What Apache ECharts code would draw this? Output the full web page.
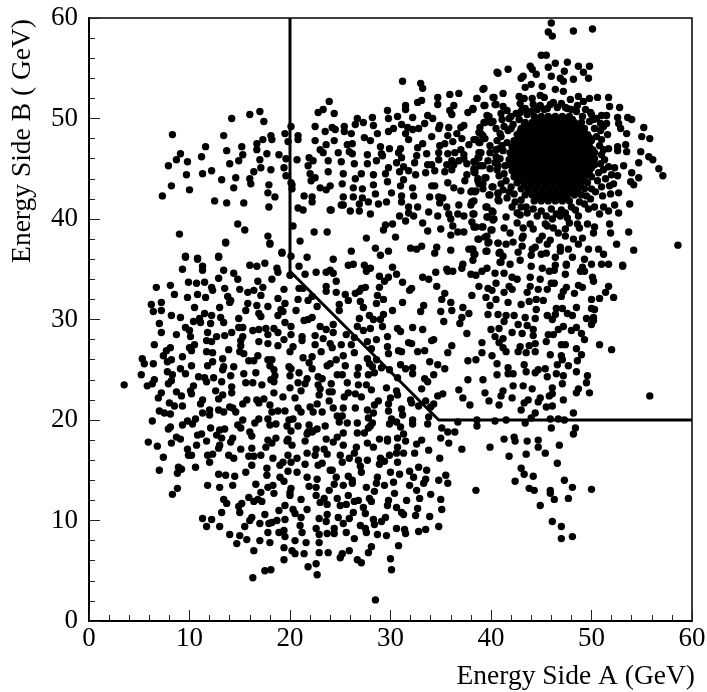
<!DOCTYPE html>
<html><head><meta charset="utf-8">
<style>html,body{margin:0;padding:0;background:#fff}#c{width:707px;height:692px}</style>
<script src="https://cdn.jsdelivr.net/npm/echarts@6/dist/echarts.min.js"></script>
</head><body><div id="c"></div><script>
const xTitle='Energy Side A (GeV)';
const yTitle='Energy Side B ( GeV)';
const cutLine=[[20,60],[20,34.8],[34.8,20],[60,20]];
const lobeUpper=[[13.6,37.7],[18.0,37.6],[19.2,36.7],[9.6,36.3],[10.8,36.1],[12.9,36.3],[9.3,35.0],[11.3,35.3],[11.3,34.9],[13.4,34.9],[16.0,35.4],[16.7,35.3],[17.5,35.6],[18.7,35.1],[18.8,34.7],[14.4,34.6],[12.9,34.1],[14.8,34.0],[18.2,34.0],[9.9,33.7],[10.7,33.6],[11.5,33.7],[16.8,33.8],[6.7,33.2],[8.1,33.4],[12.2,33.2],[12.3,32.9],[13.5,33.1],[15.0,33.0],[15.8,32.7],[16.4,32.9],[17.3,33.2],[19.4,33.0],[8.5,32.5],[10.8,32.5],[9.8,32.2],[11.6,32.2],[13.8,32.3],[17.1,32.4],[18.8,32.1],[14.1,31.9],[14.0,31.7],[7.2,31.7],[6.2,31.5],[15.8,31.6],[16.7,31.4],[17.8,31.3],[19.5,31.6],[10.5,31.2],[13.0,31.2],[19.1,31.0],[6.4,30.8],[7.2,30.9],[15.6,30.9],[19.3,30.8],[16.9,30.6],[17.1,30.3],[11.5,30.6],[8.2,30.4],[9.1,30.2],[12.2,30.4],[13.1,30.2],[18.8,30.4],[11.0,30.1],[10.4,29.8],[11.1,29.7],[14.9,30.1],[13.4,29.7],[12.1,29.6],[19.5,29.7],[7.0,29.6],[9.6,29.2],[10.0,28.9],[14.9,29.2],[15.3,29.2],[16.3,28.9],[16.9,29.0],[17.6,29.1],[18.4,29.1],[17.8,28.5],[18.8,28.7],[7.2,28.7],[8.7,28.5],[11.8,28.7],[14.2,28.7],[13.5,28.4],[12.7,28.3],[10.1,28.3],[15.3,28.3],[11.7,27.9],[12.2,27.8],[15.1,27.9],[19.4,28.0],[16.9,27.8],[17.8,27.6],[6.5,27.5],[10.5,27.5],[10.0,27.2],[10.2,26.9],[15.1,27.4],[18.8,27.4],[8.1,27.2],[7.7,26.9],[13.9,27.0],[11.7,26.8],[12.3,26.7],[15.0,26.8],[15.4,26.6],[7.4,26.4],[9.3,26.3],[16.8,26.4],[5.3,26.1],[8.2,26.0],[7.8,25.8],[13.3,26.1],[12.3,25.8],[15.9,25.9],[16.4,25.9],[17.8,26.0],[18.2,26.0],[5.5,25.6],[6.4,25.6],[10.2,25.4],[11.8,25.4],[13.4,25.3],[13.3,25.0],[14.4,25.3],[18.0,25.4],[9.1,25.1],[7.8,24.8],[9.6,24.6],[18.4,25.0],[15.4,24.6],[16.6,24.7],[5.2,24.5],[8.3,24.5],[10.9,24.3],[11.5,24.2],[11.7,23.8],[12.4,24.2],[14.1,24.4],[18.5,24.4],[18.1,24.0],[18.4,23.8],[6.5,24.0],[6.3,23.6],[5.8,23.4],[3.5,23.5],[8.2,23.9],[7.9,23.6],[13.2,23.8],[15.6,23.7],[16.3,23.7],[17.2,23.5],[10.4,23.4],[14.2,23.3],[10.1,22.9],[10.2,22.6],[12.6,22.9],[8.7,22.8],[14.2,22.7],[7.2,22.7],[9.2,22.4],[13.3,22.5],[12.9,22.1],[18.4,22.7],[19.3,22.3],[6.9,22.2],[15.7,22.0],[15.3,21.6],[16.7,22.0],[17.4,22.1],[16.9,21.7],[11.3,22.0],[11.1,21.6],[8.0,21.7],[8.5,21.4],[9.3,21.4],[14.0,21.3],[14.3,21.2],[18.0,21.5],[12.9,21.0],[13.4,20.8],[14.6,20.8],[12.0,21.0],[11.3,20.7],[12.0,20.5],[7.0,20.9],[7.5,20.7],[8.1,20.6],[18.8,20.9],[18.2,20.8],[19.5,20.9],[6.3,19.9],[9.8,19.9],[10.6,20.1],[10.3,19.6],[9.3,19.5],[15.3,20.0],[16.9,20.1],[17.8,20.1],[16.5,19.7],[18.0,19.5],[18.6,19.6],[8.1,19.3],[7.9,19.1],[12.1,19.2],[14.8,19.5],[15.1,19.2],[13.0,19.0],[13.5,19.1],[16.0,18.8],[16.2,18.4],[12.7,18.5],[13.2,18.2],[11.2,18.6],[10.8,18.5],[8.7,18.3],[9.1,18.1],[14.3,18.2],[18.6,18.2],[17.8,18.0]];
const lobeLower=[[5.9,17.8],[6.8,17.4],[8.2,17.7],[10.7,17.5],[11.7,17.9],[13.0,17.5],[12.9,17.2],[14.1,17.8],[15.1,17.1],[16.2,17.2],[18.2,17.7],[17.6,17.3],[9.8,17.1],[9.9,16.5],[10.2,16.5],[7.4,16.3],[11.8,16.5],[12.3,16.6],[12.0,15.8],[13.9,16.5],[14.4,16.2],[15.9,16.4],[16.4,16.4],[17.1,16.5],[18.3,16.2],[16.2,15.5],[19.3,15.8],[19.0,15.5],[10.6,15.3],[7.0,15.0],[8.9,15.3],[9.2,15.1],[8.8,14.7],[17.7,15.2],[12.9,14.6],[13.6,14.5],[14.5,14.4],[15.6,14.8],[17.7,14.5],[19.0,14.3],[19.4,13.9],[11.8,13.5],[13.0,13.3],[14.3,13.5],[16.6,13.6],[17.8,13.3],[18.3,13.5],[17.1,12.8],[18.4,12.7],[8.8,13.2],[8.3,12.6],[15.9,12.3],[13.4,12.1],[13.7,11.7],[16.4,11.9],[16.8,12.1],[17.2,11.9],[15.2,11.7],[14.9,11.4],[19.5,11.5],[18.9,11.0],[13.2,10.8],[15.0,10.8],[17.5,10.6],[16.2,10.3],[16.0,10.0],[11.3,10.2],[12.2,10.1],[17.0,9.7],[17.9,9.7],[18.2,9.8],[18.7,10.0],[19.5,10.1],[11.7,9.4],[13.0,9.4],[15.5,9.4],[17.8,8.8],[18.9,8.8],[19.4,9.0],[14.0,8.6],[15.0,8.5],[19.5,8.4],[15.7,8.1],[17.0,8.0],[14.7,7.7],[18.0,7.8],[19.4,7.3],[16.4,7.0],[19.4,6.1],[17.5,5.0],[18.1,5.1],[16.3,4.3]];
const lobeRight=[[20.1,18.9],[21.8,18.8],[22.3,18.9],[25.3,18.7],[26.7,18.7],[27.4,18.7],[31.3,18.6],[35.7,18.8],[36.4,18.8],[35.0,18.2],[19.8,18.1],[19.7,17.9],[21.5,17.9],[23.6,18.1],[24.7,18.3],[24.3,17.8],[28.9,18.1],[29.7,18.1],[29.7,17.9],[30.7,18.2],[31.5,17.9],[33.1,18.0],[32.6,17.6],[20.2,17.5],[25.3,17.5],[27.7,17.7],[28.3,17.3],[26.6,17.3],[30.7,17.3],[35.8,17.7],[37.1,17.1],[22.6,17.1],[23.4,17.1],[33.8,17.0],[21.7,16.7],[22.5,16.5],[23.7,16.6],[19.8,16.5],[25.0,16.5],[26.4,16.7],[25.9,16.2],[30.6,16.7],[31.3,16.7],[32.4,16.7],[29.9,16.5],[20.7,16.2],[34.9,16.2],[20.1,15.8],[21.5,15.6],[25.2,15.8],[26.8,16.0],[27.0,15.4],[27.7,16.0],[29.0,16.2],[29.4,15.9],[28.9,15.6],[30.7,15.8],[22.8,15.5],[23.2,15.7],[32.8,15.3],[33.6,15.0],[24.0,15.0],[24.2,15.0],[27.1,14.8],[19.8,14.9],[20.7,14.8],[30.0,14.8],[30.9,14.6],[31.9,14.9],[32.3,14.3],[35.5,14.5],[21.7,14.3],[22.7,14.1],[24.6,14.3],[25.8,14.4],[26.2,14.0],[26.2,13.7],[28.7,14.3],[28.6,13.7],[33.5,14.1],[33.3,13.7],[34.8,14.0],[30.3,13.8],[24.4,13.6],[25.3,13.5],[29.4,13.5],[31.9,13.5],[35.7,13.7],[21.9,13.4],[22.6,13.3],[38.5,13.0],[20.1,13.2],[20.0,12.8],[20.0,12.5],[23.9,13.0],[27.6,13.3],[28.4,12.9],[32.6,13.0],[30.4,12.7],[34.0,12.6],[22.6,12.5],[25.8,12.5],[21.1,12.1],[23.4,12.2],[24.7,12.2],[26.4,11.9],[26.8,12.0],[27.9,12.2],[28.1,11.9],[29.8,12.0],[29.7,11.5],[31.6,12.0],[32.9,12.2],[35.0,12.1],[23.0,11.8],[23.7,11.6],[25.0,11.5],[25.6,11.6],[27.3,11.3],[30.6,11.3],[32.7,11.2],[35.1,11.1],[20.3,11.1],[20.5,10.7],[21.7,11.1],[26.3,10.8],[27.5,10.7],[31.1,10.8],[31.3,10.6],[32.5,10.5],[33.9,10.4],[23.7,10.6],[21.1,10.3],[22.9,10.2],[24.8,10.3],[25.9,10.2],[23.6,9.9],[25.3,9.7],[28.3,10.1],[28.4,9.6],[29.5,10.3],[29.1,9.9],[21.0,9.5],[27.0,9.5],[34.8,9.4],[22.6,9.2],[27.5,9.2],[27.6,8.8],[24.4,9.2],[24.4,8.7],[23.7,8.7],[30.6,9.2],[31.4,9.1],[31.5,8.7],[33.5,9.1],[32.8,8.9],[21.2,8.8],[25.6,8.8],[22.9,8.6],[28.7,8.6],[29.6,8.5],[20.5,8.0],[21.6,7.8],[26.4,8.2],[22.9,7.8],[30.8,7.5],[28.1,7.4],[20.2,7.0],[20.5,6.7],[21.4,6.7],[22.9,6.8],[23.8,6.8],[25.9,7.0],[25.2,6.7],[25.0,6.3],[27.8,6.8],[30.0,6.2],[26.7,6.1],[27.1,5.8],[22.6,5.7],[21.8,5.4],[30.1,5.1],[22.7,4.6],[28.5,2.1]];
const diagonalBand=[[20.0,34.4],[21.5,34.5],[22.6,34.7],[23.6,34.7],[24.3,34.6],[24.6,33.8],[27.6,34.8],[28.9,34.3],[29.8,34.2],[30.6,34.5],[29.4,33.8],[33.2,34.2],[33.8,34.0],[34.5,34.7],[35.7,34.8],[36.2,34.8],[38.0,34.5],[38.5,34.4],[31.2,33.7],[34.6,33.3],[38.8,33.3],[20.9,33.1],[21.3,33.1],[23.6,33.3],[23.6,32.8],[28.9,33.2],[27.5,33.2],[27.1,33.1],[26.5,32.6],[26.9,32.8],[24.6,32.7],[25.5,32.5],[32.1,33.1],[31.9,32.9],[28.7,32.4],[35.4,32.6],[35.1,32.0],[38.1,32.4],[22.2,32.3],[21.8,31.9],[20.8,32.0],[25.8,31.9],[27.0,31.8],[29.3,32.0],[28.6,31.6],[31.2,31.7],[36.0,31.7],[24.9,31.5],[24.9,30.9],[22.7,31.3],[27.3,31.2],[33.3,31.4],[33.0,30.8],[20.6,30.9],[30.2,30.9],[35.0,30.8],[36.1,30.9],[37.2,31.2],[37.1,30.2],[36.9,29.6],[37.8,30.6],[29.3,30.5],[29.0,30.0],[27.9,30.4],[28.3,30.0],[26.9,30.1],[22.2,30.2],[21.8,30.0],[21.4,29.9],[35.3,29.8],[24.3,29.5],[23.0,29.3],[23.6,29.0],[26.7,29.3],[27.3,28.9],[28.0,29.1],[29.2,29.3],[20.1,29.3],[30.7,29.1],[31.0,28.8],[32.2,29.2],[33.2,29.0],[24.3,28.7],[25.6,28.5],[22.5,28.4],[20.1,28.5],[37.6,28.6],[29.7,28.3],[26.4,28.2],[21.2,28.3],[21.2,27.9],[23.3,28.1],[28.6,28.0],[34.3,28.0],[34.1,27.9],[27.7,27.8],[22.5,27.5],[24.0,27.6],[24.2,27.2],[25.1,27.5],[26.1,27.5],[31.8,27.7],[32.1,27.6],[29.7,27.3],[36.1,27.4],[28.1,27.1],[20.3,27.3],[20.0,26.8],[30.8,26.9],[31.1,26.8],[32.7,26.8],[33.4,26.9],[23.1,26.8],[25.3,26.4],[26.4,26.7],[29.8,26.6],[35.7,26.7],[22.2,26.3],[21.3,26.2],[27.7,26.1],[28.6,26.0],[24.6,26.0],[37.7,25.9],[38.5,26.0],[33.9,25.8],[21.9,25.7],[24.0,25.6],[23.7,25.4],[27.9,25.6],[28.2,25.3],[31.0,25.5],[31.5,25.1],[34.7,25.5],[25.5,25.4],[19.9,25.3],[20.1,25.1],[26.8,25.2],[29.1,25.2],[28.4,24.7],[35.4,25.1],[32.2,25.2],[32.2,24.6],[22.2,25.1],[29.9,25.0],[20.9,24.7],[20.0,24.4],[27.8,24.5],[26.7,24.5],[24.7,24.5],[25.2,24.5],[22.8,24.3],[23.2,24.1],[30.7,24.2],[34.3,24.5],[33.4,24.1],[33.7,23.8],[21.7,24.1],[21.5,23.6],[20.8,23.7],[25.7,23.7],[37.7,24.0],[24.1,23.6],[22.8,23.5],[23.0,23.1],[20.0,23.2],[26.8,23.5],[27.6,23.5],[28.1,23.0],[29.6,23.2],[33.1,23.1],[36.8,23.0],[21.1,22.9],[23.9,22.8],[24.2,22.8],[30.6,22.9],[30.7,22.5],[25.8,22.7],[22.9,22.5],[26.5,22.6],[27.1,22.3],[35.2,22.6],[34.7,22.4],[25.4,22.3],[20.5,22.2],[30.0,22.2],[29.8,21.6],[37.2,22.2],[28.8,21.9],[28.4,21.5],[32.0,22.0],[32.1,21.7],[23.9,21.9],[33.5,21.9],[22.7,21.6],[22.0,21.3],[34.3,21.6],[34.0,21.3],[32.8,21.4],[37.9,21.5],[24.3,21.2],[25.3,21.2],[26.5,21.2],[20.8,21.2],[21.1,20.8],[31.1,21.1],[29.8,20.9],[27.7,21.0],[22.3,20.8],[23.2,20.8],[28.3,20.7],[31.2,20.5],[24.7,20.4],[25.2,20.4],[24.9,19.8],[27.8,20.2],[20.3,20.1],[19.9,20.0],[33.8,20.3],[30.1,20.1],[30.6,19.8],[29.9,19.6],[32.2,20.0],[32.2,19.6],[25.7,19.7],[26.7,19.7],[28.2,19.7],[28.0,19.4],[27.8,19.2],[36.7,19.8],[38.6,20.0],[33.7,19.6],[19.7,19.4],[20.8,19.4],[21.9,19.5],[22.7,19.1],[22.2,18.8],[21.7,18.6],[23.5,19.4],[31.0,19.3],[35.1,19.2],[38.6,19.4]];
const upperLeft=[[23.9,51.7],[22.8,50.6],[23.3,50.9],[17.0,50.7],[16.0,50.4],[14.2,50.0],[17.4,49.7],[20.1,49.2],[22.5,49.2],[23.5,48.7],[8.3,48.4],[13.4,48.3],[18.1,48.3],[18.2,47.9],[19.5,48.5],[17.3,47.9],[20.8,48.3],[20.8,47.9],[19.8,47.7],[22.5,47.8],[23.6,47.4],[16.7,47.5],[11.6,47.2],[15.2,47.2],[16.7,46.9],[13.7,46.8],[15.3,46.4],[9.1,46.5],[17.7,46.5],[18.9,46.4],[23.0,46.9],[23.3,46.6],[11.2,46.2],[8.7,45.9],[9.8,45.7],[14.9,45.8],[14.0,45.5],[17.0,45.9],[19.6,46.0],[20.7,45.9],[21.9,46.1],[22.3,45.8],[23.8,45.8],[7.9,45.3],[21.8,45.3],[17.1,45.1],[16.4,44.7],[19.4,45.1],[18.1,44.9],[12.2,44.8],[11.3,44.5],[23.8,44.7],[22.0,44.5],[9.7,44.4],[19.6,44.3],[13.2,43.9],[14.6,44.1],[16.0,44.0],[16.1,43.5],[22.5,44.1],[22.1,43.8],[20.1,43.6],[20.2,43.4],[8.2,43.3],[17.9,43.4],[14.4,43.1],[10.0,42.9],[20.2,43.0],[23.0,43.1],[23.6,42.9],[24.0,43.3],[17.8,42.6],[7.3,42.3],[18.5,42.2],[21.4,42.3],[22.2,42.2],[12.5,41.8],[13.7,41.6],[15.4,41.6],[22.2,41.7],[17.9,41.2],[20.8,41.1],[21.3,40.9],[24.0,40.9],[14.8,39.5],[15.5,38.9],[20.3,39.3],[9.0,38.5],[22.4,38.7],[23.7,38.7],[17.8,38.3],[21.0,37.8],[13.6,37.6],[18.0,37.5],[19.2,36.6],[20.1,36.3],[21.7,36.2],[9.6,36.2],[12.9,36.2],[10.8,36.0],[20.9,35.3]];
const upperMiddle=[[31.2,53.7],[33.0,53.5],[33.2,53.0],[40.7,54.5],[39.3,53.0],[36.8,52.5],[35.9,52.4],[34.7,52.1],[38.6,52.0],[40.3,52.1],[33.1,51.8],[32.7,51.6],[34.7,51.4],[36.3,51.3],[35.9,50.8],[36.1,50.4],[39.4,51.3],[40.5,51.4],[31.5,51.3],[31.5,50.9],[29.7,50.8],[24.4,50.5],[38.2,51.0],[37.7,50.6],[30.7,50.2],[29.8,50.0],[32.2,50.1],[33.7,50.3],[34.2,50.0],[26.7,50.0],[27.3,49.6],[28.2,50.1],[28.3,49.3],[39.8,50.2],[39.4,49.6],[40.2,49.7],[31.1,49.4],[33.4,49.5],[34.9,49.3],[35.8,49.1],[37.3,49.3],[37.0,49.1],[38.9,49.1],[26.5,49.4],[25.4,49.2],[25.4,48.7],[24.2,49.1],[24.5,48.9],[26.1,48.5],[28.7,48.5],[29.8,48.7],[30.3,49.0],[31.7,49.1],[31.5,48.5],[32.2,48.9],[32.8,49.0],[34.8,49.0],[34.1,48.2],[36.6,48.5],[35.7,48.3],[27.4,48.1],[28.0,47.8],[31.8,47.9],[24.4,47.8],[37.1,48.0],[39.0,48.5],[39.2,48.1],[38.5,47.9],[38.9,47.6],[33.2,47.5],[26.2,47.5],[25.7,47.4],[29.0,47.2],[35.4,47.5],[36.2,47.7],[34.9,47.3],[37.8,47.4],[31.0,47.0],[30.8,46.6],[29.9,47.0],[32.7,47.1],[25.9,46.7],[26.2,46.5],[24.8,46.6],[29.1,46.5],[33.6,46.5],[34.8,46.6],[35.7,46.5],[36.4,46.6],[37.0,46.9],[37.3,46.4],[39.0,46.6],[38.8,46.1],[27.7,46.4],[31.1,46.1],[30.6,45.6],[31.3,45.2],[32.6,46.3],[32.4,45.6],[25.1,45.7],[26.4,45.5],[28.6,45.8],[27.7,45.5],[29.2,46.3],[36.1,45.8],[36.8,45.8],[34.8,45.9],[37.3,46.0],[37.6,45.5],[38.4,45.7],[39.2,45.3],[33.7,45.4],[34.1,45.4],[35.6,45.4],[36.3,45.4],[35.4,44.7],[36.1,44.9],[29.8,45.1],[29.5,44.5],[31.8,44.8],[30.9,44.7],[34.4,44.8],[38.4,44.9],[38.4,44.6],[25.3,44.5],[27.1,44.5],[28.3,44.4],[32.5,44.4],[33.5,44.6],[37.6,44.4],[37.4,43.8],[26.5,44.0],[31.3,43.9],[29.7,43.7],[25.2,43.5],[28.3,43.4],[26.3,43.1],[27.2,43.0],[31.0,43.3],[32.2,43.1],[34.1,43.3],[34.4,43.3],[35.7,43.6],[36.3,43.1],[37.0,42.8],[38.7,44.0],[39.2,43.0],[39.5,44.1],[38.8,43.5],[40.2,43.2],[38.1,42.8],[38.5,42.8],[30.1,42.6],[28.5,42.5],[25.3,42.2],[26.3,42.2],[27.2,42.1],[26.9,41.5],[31.1,42.3],[31.1,41.7],[32.3,42.3],[33.9,42.2],[34.8,42.2],[35.2,42.1],[34.9,41.6],[39.9,42.4],[40.7,42.6],[40.8,41.8],[38.3,41.8],[38.0,41.4],[25.1,41.4],[25.3,41.4],[27.8,41.7],[28.8,41.5],[29.6,41.7],[26.0,40.8],[26.9,40.8],[28.0,40.5],[24.1,40.9],[31.8,41.2],[32.7,41.2],[31.8,40.6],[32.3,40.3],[30.9,40.3],[31.5,39.8],[33.8,40.7],[34.7,40.3],[35.6,41.2],[36.8,41.4],[39.6,41.2],[40.2,40.7],[39.7,40.2],[40.3,40.0],[36.7,40.5],[37.3,40.3],[38.3,40.5],[35.8,40.5],[36.0,40.0],[36.2,39.3],[38.1,39.7],[38.5,39.2],[39.2,39.2],[33.2,39.6],[30.2,39.5],[29.5,39.4],[29.3,38.9],[33.7,38.8],[35.0,39.0],[36.7,38.7],[37.3,38.7],[36.0,38.4],[40.1,38.9],[30.5,38.2],[27.6,38.1],[38.8,38.0],[39.6,38.3],[39.8,37.7],[40.7,37.6],[34.6,37.2],[34.4,36.6],[32.0,37.1],[32.6,37.0],[33.1,37.3],[28.5,37.1],[29.0,36.4],[29.8,36.8],[26.1,36.8],[36.0,36.9],[37.8,37.0],[38.2,37.0],[38.4,36.5],[39.6,36.8],[40.8,36.6],[24.3,36.0],[38.2,35.9],[41.0,35.7],[26.3,35.5],[25.8,35.4],[27.4,35.4],[28.0,35.1],[30.2,35.2],[37.2,35.5],[37.1,35.1],[35.6,35.0],[24.0,34.9]];
const peakHalo=[[46.0,59.5],[45.7,58.6],[46.1,58.2],[48.2,58.7],[50.1,58.9],[45.0,56.3],[45.5,56.3],[41.7,54.9],[40.6,54.6],[43.9,55.2],[44.1,54.9],[45.7,55.1],[46.4,55.5],[47.6,55.6],[48.7,55.2],[49.8,55.2],[49.2,54.6],[49.7,54.0],[47.3,54.7],[44.5,54.4],[46.0,54.2],[43.2,54.2],[43.0,54.0],[46.9,54.0],[47.2,53.7],[48.2,53.9],[44.0,53.4],[43.4,53.1],[45.1,53.2],[39.2,52.9],[46.4,52.9],[47.2,52.7],[41.2,52.5],[42.8,52.2],[43.3,52.0],[44.1,52.0],[44.9,52.3],[45.3,52.1],[40.2,52.1],[38.6,52.0],[47.9,51.9],[48.7,52.2],[49.8,52.0],[50.6,52.1],[51.7,52.1],[49.2,51.7],[40.4,51.4],[39.3,51.3],[41.2,51.2],[41.6,50.8],[42.9,51.5],[44.2,51.4],[46.2,51.6],[51.8,51.2],[52.8,51.1],[48.6,51.3],[47.4,51.1],[38.2,50.9],[42.9,50.6],[43.4,51.0],[45.3,50.9],[41.0,50.5],[41.1,49.9],[39.6,50.3],[39.3,49.6],[40.0,49.6],[50.0,50.4],[51.0,50.3],[51.5,50.3],[52.6,50.1],[53.6,50.1],[54.0,49.9],[50.9,49.5],[51.5,49.5],[52.7,49.5],[52.9,49.0],[55.2,49.1],[53.5,48.5],[40.5,49.0],[38.8,48.6],[39.2,48.3],[39.4,48.0],[40.9,48.5],[51.6,48.4],[55.0,48.2],[55.8,48.0],[38.3,47.9],[38.8,47.6],[40.6,47.8],[39.9,47.3],[52.6,47.2],[53.4,47.4],[52.6,46.8],[53.5,46.7],[51.7,47.0],[54.9,46.7],[55.7,46.2],[56.1,45.9],[38.8,46.6],[38.7,46.1],[38.3,45.7],[39.9,46.6],[39.7,45.8],[40.4,45.6],[54.7,45.6],[53.2,45.3],[38.9,45.3],[38.3,45.0],[38.3,44.7],[39.9,45.0],[40.7,45.3],[51.7,45.2],[52.3,45.1],[56.7,45.0],[57.1,44.3],[54.0,44.6],[54.7,44.1],[52.0,44.4],[52.6,44.3],[51.4,44.0],[38.7,43.8],[39.4,44.1],[39.2,43.5],[52.2,43.5],[51.8,43.3],[53.9,43.7],[54.2,43.4],[40.1,43.2],[41.2,42.9],[38.4,42.7],[38.0,42.7],[52.7,42.6],[51.9,42.5],[51.1,42.3],[39.8,42.4],[40.7,42.5],[40.7,41.9],[41.6,42.1],[38.1,41.7],[53.8,41.5],[42.1,41.2],[39.5,41.2],[40.1,40.8],[49.7,41.0],[50.3,41.2],[51.2,41.2],[52.3,41.4],[51.7,40.8],[52.7,40.6],[50.8,40.5],[38.2,40.5],[39.6,40.2],[40.2,39.9],[41.5,40.2],[42.6,40.6],[42.9,40.4],[48.7,40.3],[42.6,39.6],[51.8,39.5],[50.3,39.2],[50.2,38.6],[51.9,38.6],[38.3,39.2],[39.1,39.2],[40.0,38.9],[41.3,39.1],[43.2,39.1],[43.9,39.5],[44.2,39.0],[45.4,39.5],[46.1,40.0],[46.9,40.3],[47.6,40.1],[47.8,39.6],[47.4,39.0],[46.7,38.6],[46.2,39.1],[45.6,39.3],[48.6,39.5],[48.8,39.1],[49.6,39.5],[53.7,38.7],[41.9,38.6],[43.2,38.3],[43.1,38.1],[45.1,38.3],[44.8,37.9],[47.4,38.3],[48.2,38.0],[49.1,38.1],[38.7,38.0],[39.4,38.2],[39.7,37.6],[40.7,37.6],[41.5,37.5],[42.2,37.7],[43.1,37.3],[45.9,37.9],[45.6,37.5],[48.7,37.5],[52.5,37.5],[46.9,37.2],[47.7,37.0],[46.9,36.8],[44.4,37.2],[44.1,37.0],[49.7,37.0],[50.7,37.0],[51.2,36.5],[54.2,36.9],[39.5,36.8],[38.1,37.0],[38.3,36.5],[40.9,36.7],[41.2,36.3],[42.7,36.7],[44.0,36.4],[45.0,36.5],[45.5,36.6],[46.4,36.2],[48.1,36.2],[42.9,35.9],[49.3,36.0],[40.9,35.7],[41.9,35.5],[46.4,35.4],[47.5,35.5],[50.0,35.5],[51.0,35.5],[51.7,35.5],[53.1,35.4]];
const peakFringe=[[41.0,48.2],[41.6,47.6],[41.2,46.8],[40.9,46.0],[41.4,45.3],[41.3,44.5],[41.5,43.8],[42.0,43.2],[42.3,42.5],[43.0,41.9],[43.5,41.2],[44.2,41.0],[45.0,40.8],[46.0,41.0],[47.0,40.9],[48.0,41.2],[48.8,41.7],[49.5,42.3],[50.0,43.0],[50.6,43.8],[50.7,44.6],[50.9,45.5],[51.0,46.4],[50.8,47.3],[50.5,48.2],[50.3,49.0],[49.8,49.7],[49.1,50.2],[48.5,50.7],[47.6,51.0],[46.6,51.1],[45.6,51.0],[44.6,50.9],[43.6,50.4],[42.8,49.9],[42.2,49.4],[41.7,48.8],[42.0,50.2],[41.8,45.9],[40.5,46.9],[43.1,50.9],[44.0,50.7],[44.9,51.3],[45.9,51.4],[47.0,51.5],[48.0,50.9],[49.4,50.9],[50.2,49.9],[50.9,48.8],[51.0,47.9],[51.2,46.9],[51.3,45.9],[51.2,44.9],[51.0,43.2],[50.4,42.7],[49.9,42.0],[49.3,41.5],[48.4,40.9],[47.4,40.6],[46.5,40.5],[45.5,40.3],[44.6,40.3],[43.6,40.6],[43.0,41.2],[42.4,41.7],[41.8,42.7],[41.0,43.5],[40.8,44.3],[40.6,44.9],[41.1,47.3],[40.8,47.0],[40.5,46.2],[41.3,49.2],[42.0,49.0],[41.8,50.0],[42.5,50.5],[49.9,50.6],[50.5,50.0],[51.2,49.2]];
const peakCore=[[44.3,50.2],[45.0,50.2],[45.7,50.2],[46.4,50.2],[47.1,50.2],[47.8,50.2],[43.4,49.6],[44.1,49.6],[44.8,49.6],[45.5,49.6],[46.2,49.6],[46.9,49.6],[47.6,49.6],[48.3,49.6],[49.0,49.6],[43.0,49.0],[43.7,49.0],[44.4,49.0],[45.1,49.0],[45.8,49.0],[46.5,49.0],[47.2,49.0],[47.9,49.0],[48.6,49.0],[49.3,49.0],[42.6,48.4],[43.3,48.4],[44.0,48.4],[44.7,48.4],[45.4,48.4],[46.1,48.4],[46.8,48.4],[47.5,48.4],[48.2,48.4],[48.9,48.4],[49.6,48.4],[42.3,47.8],[43.0,47.8],[43.7,47.8],[44.4,47.8],[45.1,47.8],[45.8,47.8],[46.5,47.8],[47.2,47.8],[47.9,47.8],[48.6,47.8],[49.3,47.8],[50.0,47.8],[42.1,47.2],[42.8,47.2],[43.5,47.2],[44.2,47.2],[44.9,47.2],[45.6,47.2],[46.3,47.2],[47.0,47.2],[47.7,47.2],[48.4,47.2],[49.1,47.2],[49.8,47.2],[41.9,46.6],[42.6,46.6],[43.3,46.6],[44.0,46.6],[44.7,46.6],[45.4,46.6],[46.1,46.6],[46.8,46.6],[47.5,46.6],[48.2,46.6],[48.9,46.6],[49.6,46.6],[50.3,46.6],[42.1,46.0],[42.8,46.0],[43.5,46.0],[44.2,46.0],[44.9,46.0],[45.6,46.0],[46.3,46.0],[47.0,46.0],[47.7,46.0],[48.4,46.0],[49.1,46.0],[49.8,46.0],[50.3,46.0],[41.9,45.4],[42.6,45.4],[43.3,45.4],[44.0,45.4],[44.7,45.4],[45.4,45.4],[46.1,45.4],[46.8,45.4],[47.5,45.4],[48.2,45.4],[48.9,45.4],[49.6,45.4],[50.3,45.4],[42.1,44.8],[42.8,44.8],[43.5,44.8],[44.2,44.8],[44.9,44.8],[45.6,44.8],[46.3,44.8],[47.0,44.8],[47.7,44.8],[48.4,44.8],[49.1,44.8],[49.8,44.8],[42.3,44.2],[43.0,44.2],[43.7,44.2],[44.4,44.2],[45.1,44.2],[45.8,44.2],[46.5,44.2],[47.2,44.2],[47.9,44.2],[48.6,44.2],[49.3,44.2],[50.0,44.2],[42.6,43.6],[43.3,43.6],[44.0,43.6],[44.7,43.6],[45.4,43.6],[46.1,43.6],[46.8,43.6],[47.5,43.6],[48.2,43.6],[48.9,43.6],[49.6,43.6],[43.0,43.0],[43.7,43.0],[44.4,43.0],[45.1,43.0],[45.8,43.0],[46.5,43.0],[47.2,43.0],[47.9,43.0],[48.6,43.0],[49.3,43.0],[43.4,42.4],[44.1,42.4],[44.8,42.4],[45.5,42.4],[46.2,42.4],[46.9,42.4],[47.6,42.4],[48.3,42.4],[49.0,42.4],[44.3,41.8],[45.0,41.8],[45.7,41.8],[46.4,41.8],[47.1,41.8],[47.8,41.8]];
const peakCoreFill=[[44.6,49.9],[45.3,49.9],[46.0,49.9],[46.7,49.9],[47.4,49.9],[48.1,49.9],[43.3,49.3],[44.0,49.3],[44.7,49.3],[45.4,49.3],[46.1,49.3],[46.8,49.3],[47.5,49.3],[48.2,49.3],[48.9,49.3],[42.9,48.7],[43.6,48.7],[44.3,48.7],[45.0,48.7],[45.7,48.7],[46.4,48.7],[47.1,48.7],[47.8,48.7],[48.5,48.7],[49.2,48.7],[42.9,48.1],[43.6,48.1],[44.3,48.1],[45.0,48.1],[45.7,48.1],[46.4,48.1],[47.1,48.1],[47.8,48.1],[48.5,48.1],[49.2,48.1],[49.8,48.1],[42.6,47.5],[43.3,47.5],[44.0,47.5],[44.7,47.5],[45.4,47.5],[46.1,47.5],[46.8,47.5],[47.5,47.5],[48.2,47.5],[48.9,47.5],[49.6,47.5],[42.4,46.9],[43.1,46.9],[43.8,46.9],[44.5,46.9],[45.2,46.9],[45.9,46.9],[46.6,46.9],[47.3,46.9],[48.0,46.9],[48.7,46.9],[49.4,46.9],[50.1,46.9],[42.2,46.3],[42.9,46.3],[43.6,46.3],[44.3,46.3],[45.0,46.3],[45.7,46.3],[46.4,46.3],[47.1,46.3],[47.8,46.3],[48.5,46.3],[49.2,46.3],[49.9,46.3],[42.2,45.7],[42.9,45.7],[43.6,45.7],[44.3,45.7],[45.0,45.7],[45.7,45.7],[46.4,45.7],[47.1,45.7],[47.8,45.7],[48.5,45.7],[49.2,45.7],[49.9,45.7],[42.4,45.1],[43.1,45.1],[43.8,45.1],[44.5,45.1],[45.2,45.1],[45.9,45.1],[46.6,45.1],[47.3,45.1],[48.0,45.1],[48.7,45.1],[49.4,45.1],[50.0,45.1],[42.6,44.5],[43.3,44.5],[44.0,44.5],[44.7,44.5],[45.4,44.5],[46.1,44.5],[46.8,44.5],[47.5,44.5],[48.2,44.5],[48.9,44.5],[49.6,44.5],[42.9,43.9],[43.6,43.9],[44.3,43.9],[45.0,43.9],[45.7,43.9],[46.4,43.9],[47.1,43.9],[47.8,43.9],[48.5,43.9],[49.2,43.9],[43.3,43.3],[44.0,43.3],[44.7,43.3],[45.4,43.3],[46.1,43.3],[46.8,43.3],[47.5,43.3],[48.2,43.3],[48.9,43.3],[43.7,42.7],[44.4,42.7],[45.1,42.7],[45.8,42.7],[46.5,42.7],[47.2,42.7],[47.9,42.7],[48.6,42.7],[44.6,42.1],[45.3,42.1],[46.0,42.1],[46.7,42.1],[47.4,42.1]];
const lowerRight=[[53.1,35.3],[47.5,35.4],[44.0,35.3],[45.1,35.1],[39.6,35.1],[39.1,34.8],[40.4,34.6],[41.3,34.6],[45.8,34.8],[46.3,34.9],[49.1,35.2],[48.9,34.8],[49.3,34.8],[47.4,34.5],[42.1,34.2],[42.6,34.0],[43.9,34.2],[44.9,34.0],[50.1,34.2],[50.2,33.8],[40.5,33.6],[46.0,33.6],[46.3,33.6],[41.8,33.3],[42.1,33.0],[43.9,33.3],[48.7,33.4],[49.1,33.2],[51.7,33.3],[51.4,32.7],[39.7,33.1],[40.1,32.9],[47.5,33.2],[47.2,32.8],[47.0,32.3],[44.7,33.0],[45.6,33.0],[41.3,32.7],[43.6,32.7],[48.3,32.6],[52.2,32.2],[39.5,32.2],[40.5,32.0],[44.5,32.0],[45.2,31.9],[43.8,31.8],[41.7,31.7],[50.0,32.0],[50.8,32.1],[43.0,31.5],[39.9,31.4],[48.5,31.2],[46.5,31.1],[47.1,31.1],[44.5,31.0],[50.0,31.1],[50.3,31.0],[39.7,30.5],[40.7,30.5],[41.5,30.4],[41.3,29.8],[42.3,30.4],[43.4,30.2],[44.4,30.1],[45.6,30.4],[46.1,30.0],[46.4,30.5],[47.6,30.6],[48.1,30.4],[49.5,30.1],[50.2,30.2],[50.2,29.9],[50.0,29.5],[42.7,29.5],[43.6,29.4],[40.8,29.1],[40.0,29.0],[44.2,29.0],[44.2,28.4],[47.2,29.3],[46.7,29.0],[48.5,29.2],[48.0,28.9],[42.1,28.7],[43.1,28.6],[45.7,28.5],[46.2,28.5],[49.0,28.6],[49.3,28.0],[40.4,28.3],[40.8,27.7],[41.2,28.1],[45.5,27.8],[39.1,27.7],[44.4,27.6],[43.8,27.4],[42.9,27.3],[42.7,26.8],[47.0,27.5],[47.4,27.5],[50.8,27.5],[41.2,27.2],[41.5,26.8],[48.5,27.1],[52.0,27.0],[43.5,26.7],[44.4,26.8],[39.1,26.7],[40.1,26.4],[45.9,26.5],[49.0,26.5],[48.6,25.9],[47.0,26.4],[47.1,26.0],[40.6,25.6],[43.3,25.5],[46.6,25.5],[47.7,25.4],[41.7,25.2],[41.7,24.6],[42.2,24.6],[45.4,25.1],[44.7,25.0],[44.4,24.7],[43.5,24.8],[48.5,24.8],[40.6,24.5],[46.5,24.6],[47.2,24.4],[45.6,24.3],[49.6,24.4],[49.5,23.7],[39.2,24.0],[47.1,23.6],[42.2,23.4],[43.2,23.4],[44.1,23.1],[46.1,23.2],[46.1,22.6],[45.8,22.4],[48.7,23.1],[48.5,22.7],[49.8,22.7],[55.8,22.4],[41.2,22.9],[41.0,22.4],[39.4,22.7],[42.1,22.2],[44.9,22.2],[44.7,21.8],[47.2,22.0],[43.7,22.0],[43.3,21.7],[39.8,21.9],[40.8,21.5],[45.5,21.3],[46.1,21.4],[43.0,21.0],[44.4,20.7],[48.2,20.7],[44.0,20.2],[45.9,20.1],[46.7,20.1],[47.3,20.0],[40.4,19.9],[41.5,20.0],[43.4,19.7],[46.0,19.2],[48.4,19.2],[48.2,18.6],[41.3,18.1],[42.3,18.3],[42.4,17.9],[43.6,17.9],[44.7,18.0],[44.7,17.3],[46.8,17.5],[39.9,17.3],[43.5,16.6],[45.4,16.7],[41.8,16.4],[46.6,15.7],[43.0,15.2],[43.3,14.6],[44.2,14.4],[42.4,13.9],[47.3,14.0],[48.1,13.3],[50.0,13.1],[43.8,13.2],[44.3,13.0],[45.9,13.0],[45.9,12.7],[46.3,12.1],[47.7,12.2],[44.9,11.5],[46.1,9.9],[47.0,9.4],[47.0,8.2],[48.1,8.4],[58.6,37.4]];
const allPoints=[...lobeUpper,...lobeLower,...lobeRight,...diagonalBand,...upperLeft,...upperMiddle,...peakHalo,...peakFringe,...peakCore,...peakCoreFill,...lowerRight];
const FONT='"Liberation Serif","Times New Roman",serif';
const INK='#000';
function axis(extra){return Object.assign({type:'value',min:0,max:60,interval:10,
 axisLine:{show:true,onZero:false,lineStyle:{color:INK,width:2}},
 axisTick:{show:true,inside:true,length:11,lineStyle:{color:'#222',width:1}},
 minorTick:{show:true,splitNumber:5,length:6,lineStyle:{color:'#222',width:1}},
 splitLine:{show:false},minorSplitLine:{show:false}},extra);}
const chart=echarts.init(document.getElementById('c'),null,{renderer:'canvas'});
chart.setOption({animation:false,backgroundColor:'#fff',
 grid:{left:89,right:15,top:18,bottom:71,outerBoundsMode:'none',containLabel:false,show:true,borderColor:INK,borderWidth:1.5,backgroundColor:'transparent'},
 xAxis:axis({axisLabel:{color:INK,fontFamily:FONT,fontSize:27,margin:4,showMinLabel:true,showMaxLabel:true},
  name:xTitle,nameLocation:'end',nameGap:3,nameMoveOverlap:false,
  nameTextStyle:{color:INK,fontFamily:FONT,fontSize:27.5,align:'right',verticalAlign:'top',padding:[42,0,0,0]}}),
 yAxis:axis({axisLabel:{color:INK,fontFamily:FONT,fontSize:27,margin:11,showMinLabel:true,showMaxLabel:true},
  name:yTitle,nameLocation:'end',nameGap:-1,nameRotate:90,nameMoveOverlap:false,
  nameTextStyle:{color:INK,fontFamily:FONT,fontSize:27.5,align:'right',verticalAlign:'bottom',padding:[0,0,52,0]}}),
 series:[
  {type:'scatter',data:allPoints,symbol:'circle',symbolSize:7.4,itemStyle:{color:INK,opacity:1},silent:true},
  {type:'line',data:cutLine,symbol:'none',lineStyle:{color:INK,width:3},silent:true,z:3}
 ]});
</script></body></html>
